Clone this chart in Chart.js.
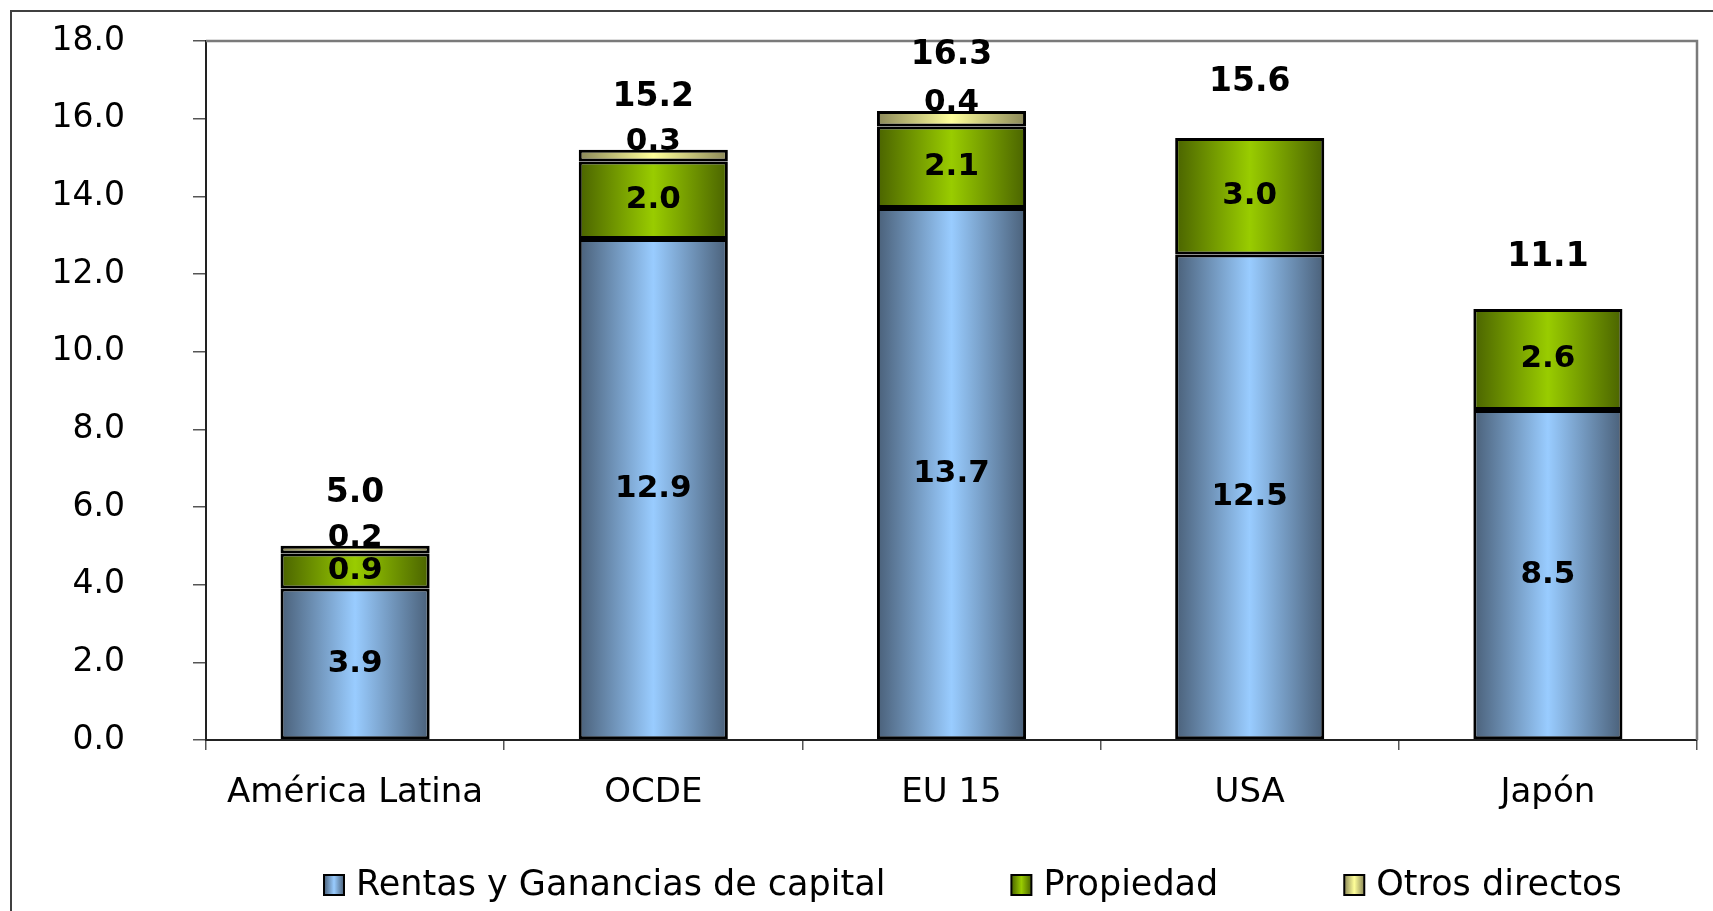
<!DOCTYPE html>
<html>
<head>
<meta charset="utf-8">
<script src="https://cdn.jsdelivr.net/npm/chart.js@4.4.1/dist/chart.umd.min.js"></script>
<style>
  html, body { margin: 0; padding: 0; background: #fff; overflow: hidden; }
  #frame { position: absolute; left: 10px; top: 10px; width: 1760px; height: 960px;
           border-left: 2px solid #404040; border-top: 2px solid #404040; }
  #chart { position: absolute; left: 0; top: 0; }
</style>
</head>
<body>
<div id="frame"></div>
<canvas id="chart" width="1713" height="911"></canvas>
<script>
// datos
const categories = ['América Latina', 'OCDE', 'EU 15', 'USA', 'Japón'];
const rentas = [3.9, 12.9, 13.7, 12.5, 8.5];
const propiedad = [0.9, 2.0, 2.1, 3.0, 2.6];
const otros = [0.2, 0.3, 0.4, null, null];
const totales = [5.0, 15.2, 16.3, 15.6, 11.1];
const seriesNames = ['Rentas y Ganancias de capital', 'Propiedad', 'Otros directos'];
const yMax = 18;
const yStep = 2;

// colores (borde, centro) para el degradado horizontal
const blue = ['#4a6079', '#99ccff'];
const green = ['#4a6300', '#99cc00'];
const yellow = ['#8a8758', '#ffff99'];

const FONT = '"DejaVu Sans", sans-serif';
Chart.defaults.font.family = FONT;
Chart.defaults.color = '#000';

function barGradient(colors) {
    return ctx => {
        const chart = ctx.chart;
        if (!chart.chartArea || ctx.type !== 'data') return colors[1];
        const xs = chart.scales.x;
        const cx = xs.getPixelForValue(ctx.dataIndex);
        const half = xs.width / categories.length * 0.25;
        const g = chart.ctx.createLinearGradient(cx - half, 0, cx + half, 0);
        g.addColorStop(0, colors[0]);
        g.addColorStop(0.5, colors[1]);
        g.addColorStop(1, colors[0]);
        return g;
    };
}

// marco del área de gráfico (arriba y derecha)
const plotFrame = {
    id: 'plotFrame',
    beforeDatasetsDraw(chart) {
        const { ctx, chartArea: a } = chart;
        ctx.save();
        ctx.strokeStyle = '#7a7a7a';
        ctx.lineWidth = 2.5;
        ctx.beginPath();
        ctx.moveTo(a.left, a.top);
        ctx.lineTo(a.right, a.top);
        ctx.lineTo(a.right, a.bottom);
        ctx.stroke();
        ctx.restore();
    }
};

// etiquetas de valores y totales
const valueLabels = {
    id: 'valueLabels',
    afterDatasetsDraw(chart) {
        const c = chart.ctx;
        c.save();
        c.fillStyle = '#000';
        c.textAlign = 'center';
        c.textBaseline = 'middle';
        c.font = 'bold 31px ' + FONT;
        chart.data.datasets.forEach((ds, di) => {
            chart.getDatasetMeta(di).data.forEach((bar, i) => {
                const v = ds.data[i];
                if (v == null) return;
                const y = di === 2 ? bar.y - 8 : (bar.y + bar.base) / 2;
                c.fillText(v.toFixed(1), bar.x, y);
            });
        });
        c.font = 'bold 33px ' + FONT;
        totales.forEach((t, i) => {
            const x = chart.scales.x.getPixelForValue(i);
            const y = chart.scales.y.getPixelForValue(t) - 52;
            c.fillText(t.toFixed(1), x, y);
        });
        c.restore();
    }
};

// leyenda
const legendRow = {
    id: 'legendRow',
    afterDraw(chart) {
        const c = chart.ctx;
        const colors = [blue, green, yellow];
        const y = 885;
        let x = 324;
        c.save();
        c.font = '35px ' + FONT;
        c.textBaseline = 'middle';
        c.fillStyle = '#000';
        seriesNames.forEach((name, i) => {
            const g = c.createLinearGradient(x, 0, x + 20, 0);
            g.addColorStop(0, colors[i][0]);
            g.addColorStop(0.5, colors[i][1]);
            g.addColorStop(1, colors[i][0]);
            c.fillStyle = g;
            c.fillRect(x, y - 10, 20, 20);
            c.strokeStyle = '#000';
            c.lineWidth = 2;
            c.strokeRect(x, y - 10, 20, 20);
            c.fillStyle = '#000';
            c.fillText(name, x + 32, y + 1);
            x += 32 + c.measureText(name).width + 126;
        });
        c.restore();
    }
};

new Chart(document.getElementById('chart'), {
    type: 'bar',
    data: {
        labels: categories,
        datasets: [
            { label: seriesNames[0], data: rentas, backgroundColor: barGradient(blue) },
            { label: seriesNames[1], data: propiedad, backgroundColor: barGradient(green) },
            { label: seriesNames[2], data: otros, backgroundColor: barGradient(yellow) }
        ]
    },
    options: {
        responsive: false,
        animation: false,
        devicePixelRatio: 1,
        layout: { padding: { top: 41, right: 16, left: 0, bottom: 0 } },
        datasets: {
            bar: {
                categoryPercentage: 1,
                barPercentage: 0.5,
                borderColor: '#000',
                borderWidth: 3,
                borderSkipped: false
            }
        },
        plugins: {
            legend: { display: false },
            title: { display: false },
            tooltip: { enabled: false }
        },
        scales: {
            x: {
                stacked: true,
                grid: { offset: true, drawOnChartArea: false, tickLength: 10, color: '#555', lineWidth: 1.5 },
                border: { color: '#222', width: 2 },
                ticks: { font: { size: 34 }, padding: 23, maxRotation: 0 },
                afterFit: s => { s.height = 171; s.paddingLeft = 0; s.paddingRight = 0; }
            },
            y: {
                stacked: true,
                min: 0,
                max: yMax,
                grid: { drawOnChartArea: false, tickLength: 13, color: '#555', lineWidth: 1.5 },
                border: { color: '#222', width: 2 },
                ticks: { stepSize: yStep, font: { size: 33 }, padding: 68, callback: v => v.toFixed(1) },
                afterFit: s => { s.width = 206; s.paddingTop = 0; s.paddingBottom = 0; }
            }
        }
    },
    plugins: [plotFrame, valueLabels, legendRow]
});
</script>
</body>
</html>
